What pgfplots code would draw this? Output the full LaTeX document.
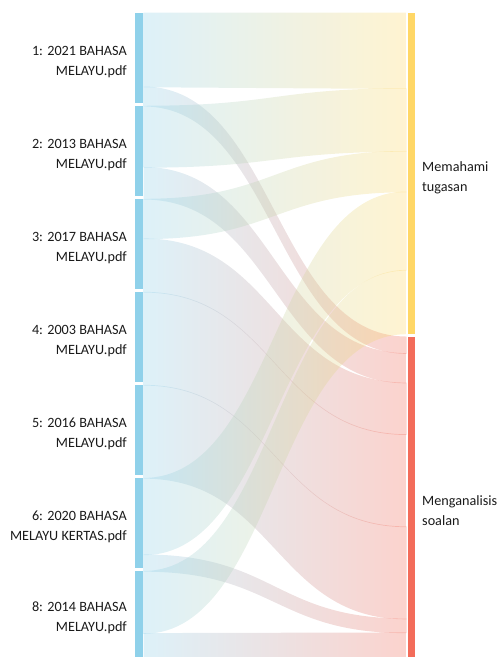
\documentclass[border=0pt]{standalone}
\usepackage{pgfplots}
\pgfplotsset{compat=1.18}
\usepackage{fontspec}
\setmainfont{Carlito}

\definecolor{src}{HTML}{8FD1EA}
\definecolor{tM}{HTML}{FFD766}
\definecolor{tA}{HTML}{F36C5A}
\definecolor{txt}{HTML}{1A1A1A}

% source label line 1 / line 2 / value to "Memahami tugasan" / value to "Menganalisis soalan"
\def\sources{%
 {1: 2021 BAHASA}/{MELAYU.pdf}/82/18,
 {2: 2013 BAHASA}/{MELAYU.pdf}/68/32,
 {3: 2017 BAHASA}/{MELAYU.pdf}/44/56,
 {4: 2003 BAHASA}/{MELAYU.pdf}/0/100,
 {5: 2016 BAHASA}/{MELAYU.pdf}/0/100,
 {6: 2020 BAHASA}/{MELAYU KERTAS.pdf}/85/15,
 {8: 2014 BAHASA}/{MELAYU.pdf}/69/31}

% layout (in picture pixels)
\def\ytop{12.7}\def\ybot{661}\def\gap{3}
\def\xLa{135}\def\xLb{142.5}\def\xa{143.5}
\def\xb{406.5}\def\xRa{407.5}\def\xRb{415}
\def\lopac{0.3}
\def\ov{0.7}% small overlap of neighbouring links

\begin{document}
\begin{tikzpicture}[every node/.style={font=\fontsize{14.2}{19.5}\selectfont, text=txt, inner sep=0pt}]
\begin{axis}[hide axis, x=1pt, y=1pt, xmin=0, xmax=498, ymin=0, ymax=657,
  y dir=reverse, clip=false, anchor=origin]
\pgfplotsextra{%
  \gdef\sumM{0}\gdef\sumA{0}\gdef\nsrc{0}%
  \foreach \la/\lb/\m/\a in \sources {%
    \pgfmathsetmacro\t{\sumM+\m}\global\let\sumM\t
    \pgfmathsetmacro\t{\sumA+\a}\global\let\sumA\t
    \pgfmathsetmacro\t{\nsrc+1}\global\let\nsrc\t
  }%
  \pgfmathsetmacro\kL{(\ybot-\ytop-(\nsrc-1)*\gap)/(\sumM+\sumA)}%
  \pgfmathsetmacro\kR{(\ybot-\ytop-\gap)/(\sumM+\sumA)}%
  \pgfmathsetmacro\xc{(\xa+\xb)/2}%
  \pgfmathsetmacro\Mtop{\ytop}%
  \pgfmathsetmacro\Mbot{\ytop+\sumM*\kR}%
  \pgfmathsetmacro\Atop{\Mbot+\gap}%
  \global\let\curL\ytop
  \global\let\curM\Mtop
  \global\let\curA\Atop
  \foreach \la/\lb/\m/\a in \sources {%
    \pgfmathsetmacro\sTop{\curL}%
    \pgfmathsetmacro\sMid{\curL+\m*\kL}%
    \pgfmathsetmacro\sBot{\sMid+\a*\kL}%
    \pgfmathsetmacro\mTop{\curM}%
    \pgfmathsetmacro\mBot{\curM+\m*\kR}%
    \pgfmathsetmacro\aTop{\curA}%
    \pgfmathsetmacro\aBot{\curA+\a*\kR}%
    \pgfmathsetmacro\sMidO{\sMid+\ov+(\a==0)*\gap}%
    \pgfmathsetmacro\sBotO{\sBot+\ov+\gap}%
    \pgfmathsetmacro\mBotO{\mBot+\ov}%
    \pgfmathsetmacro\aBotO{\aBot+\ov}%
    \ifdim\m pt>0pt
      \shade[left color=src, right color=tM, fill opacity=\lopac]
        (axis cs:\xa,\sTop) .. controls (axis cs:\xc,\sTop) and (axis cs:\xc,\mTop) .. (axis cs:\xb,\mTop)
        -- (axis cs:\xb,\mBotO) .. controls (axis cs:\xc,\mBotO) and (axis cs:\xc,\sMidO) .. (axis cs:\xa,\sMidO) -- cycle;
    \fi
    \ifdim\a pt>0pt
      \shade[left color=src, right color=tA, fill opacity=\lopac]
        (axis cs:\xa,\sMid) .. controls (axis cs:\xc,\sMid) and (axis cs:\xc,\aTop) .. (axis cs:\xb,\aTop)
        -- (axis cs:\xb,\aBotO) .. controls (axis cs:\xc,\aBotO) and (axis cs:\xc,\sBotO) .. (axis cs:\xa,\sBotO) -- cycle;
    \fi
    \fill[src] (axis cs:\xLa,\sTop) rectangle (axis cs:\xLb,\sBot);
    \pgfmathsetmacro\lc{(\sTop+min(\sBot,657))/2}%
    \pgfmathsetmacro\lyA{\lc-2.5}%
    \pgfmathsetmacro\lyB{\lc+17.5}%
    \node[anchor=base east] at (axis cs:127,\lyA) {\la};
    \node[anchor=base east] at (axis cs:127,\lyB) {\lb};
    \pgfmathsetmacro\t{\sBot+\gap}\global\let\curL\t
    \global\let\curM\mBot
    \global\let\curA\aBot
  }%
  \fill[tM] (axis cs:\xRa,\Mtop) rectangle (axis cs:\xRb,\Mbot);
  \fill[tA] (axis cs:\xRa,\Atop) rectangle (axis cs:\xRb,\ybot);
  \node[anchor=base west] at (axis cs:422,171.5) {Memahami};
  \node[anchor=base west] at (axis cs:422,191.5) {tugasan};
  \node[anchor=base west] at (axis cs:422,505) {Menganalisis};
  \node[anchor=base west] at (axis cs:422,525) {soalan};
}
\end{axis}
\pgfresetboundingbox
\path[use as bounding box] (current axis.south west) rectangle (current axis.north east);
\end{tikzpicture}
\end{document}
